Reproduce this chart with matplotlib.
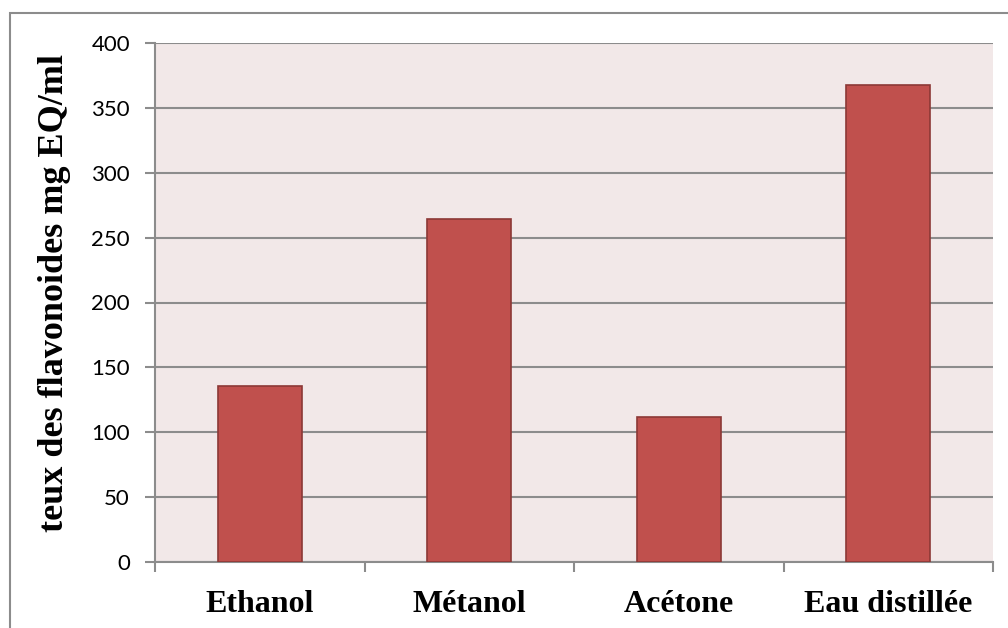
import matplotlib
matplotlib.use('Agg')
import matplotlib.pyplot as plt
from matplotlib.patches import Rectangle
import numpy as np

categories = ['Ethanol', 'Métanol', 'Acétone', 'Eau distillée']
values = [136, 264, 112, 368]
yticks = [0, 50, 100, 150, 200, 250, 300, 350, 400]

W, H = 1008, 628
fig = plt.figure(figsize=(W / 100, H / 100), dpi=100)

# outer chart frame
fig.patches.append(Rectangle((10 / W, -0.05), 1.2, (H - 13) / H + 0.05,
                             transform=fig.transFigure, fill=False,
                             edgecolor='#8c8c8c', linewidth=1.5))

ax = fig.add_axes([155 / W, (H - 562) / H, (993 - 155) / W, (562 - 43) / H])
ax.set_facecolor('#f2e8e8')

x = np.arange(len(categories))
ax.bar(x, values, width=0.4, color='#c0504d', edgecolor='#8c3836',
       linewidth=1.2, zorder=3)

ax.set_xlim(-0.5, len(categories) - 0.5)
ax.set_ylim(0, 400)
ax.set_yticks(yticks)
ax.set_yticklabels([str(v) for v in yticks], fontsize=16, family='Lato')
ax.yaxis.grid(True, color='#8c8c8c', linewidth=1.5, zorder=1)
ax.tick_params(axis='y', length=7, width=1.5, color='#8c8c8c', pad=11)

ax.set_xticks(x)
ax.set_xticklabels(categories, fontsize=23, fontweight='bold',
                   family='Liberation Serif')
ax.set_xticks(np.arange(-0.5, len(categories), 1.0), minor=True)
ax.tick_params(axis='x', which='major', length=0, pad=20)
ax.tick_params(axis='x', which='minor', length=7, width=1.5, color='#8c8c8c')

for side in ['top', 'right']:
    ax.spines[side].set_visible(False)
for side in ['left', 'bottom']:
    ax.spines[side].set_color('#8c8c8c')
    ax.spines[side].set_linewidth(1.5)

ax.set_ylabel('teux des flavonoides mg EQ/ml', fontsize=26, fontweight='bold',
              family='Liberation Serif')
ax.yaxis.set_label_coords(-0.1205, 0.519)
ax.yaxis.label.set_va('center')

fig.savefig('out.png', dpi=100)
